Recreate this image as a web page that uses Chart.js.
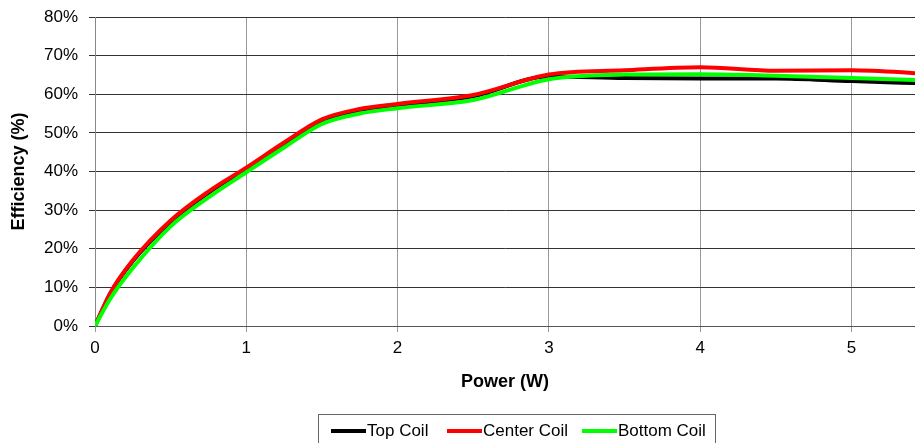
<!DOCTYPE html>
<html>
<head>
<meta charset="utf-8">
<script src="https://cdn.jsdelivr.net/npm/chart.js@4.4.1/dist/chart.umd.min.js"></script>
<style>
  body { margin: 0; background: #fff; }
  #wrap { position: relative; width: 915px; height: 443px; overflow: hidden; }
  #legend {
    position: absolute; left: 318px; top: 414px; width: 398px; height: 40px;
    border: 1px solid #666; box-sizing: border-box;
    font: 17px "Liberation Sans", Arial, sans-serif; color: #000;
  }
  #legend span.item { position: absolute; top: 6px; white-space: nowrap; }
  #legend i { display: inline-block; width: 35px; height: 4px; vertical-align: middle; margin-right: 1px; position: relative; top: -1px; }
</style>
</head>
<body>
<div id="wrap">
  <canvas id="myChart" width="915" height="443"></canvas>
  <div id="legend"></div>
</div>
<script>
// values
var powerW     = [0, 0.1, 0.25, 0.5, 0.75, 1, 1.25, 1.5, 1.75, 2, 2.5, 3, 3.5, 4, 4.5, 5, 5.5];
var topCoil    = [0, 8.3, 16.8, 27.0, 34.5, 40.7, 47.2, 53.2, 55.9, 57.2, 59.5, 64.6, 64.2, 64.1, 64.1, 63.4, 62.8];
var centerCoil = [0, 8.5, 17.0, 27.3, 34.8, 41.0, 47.5, 53.5, 56.2, 57.5, 59.8, 65.1, 66.2, 67.0, 66.1, 66.2, 65.3];
var bottomCoil = [0, 7.0, 15.0, 25.8, 33.3, 39.8, 46.2, 52.3, 55.0, 56.4, 58.5, 63.9, 65.1, 65.2, 64.8, 64.2, 63.6];
var seriesNames = ['Top Coil', 'Center Coil', 'Bottom Coil'];
var seriesColors = ['#000000', '#ff0000', '#00ff00'];

function toPoints(ys) {
   return ys.map(function (y, i) { return { x: powerW[i], y: y }; });
}

var allSeries = [topCoil, centerCoil, bottomCoil];
var datasets = allSeries.map(function (ys, i) {
   return {
      label: seriesNames[i],
      data: toPoints(ys),
      borderColor: seriesColors[i],
      backgroundColor: seriesColors[i],
      borderWidth: 4,
      pointRadius: 0,
      cubicInterpolationMode: 'monotone',
      order: 2 - i // green drawn on top, like the original
   };
});

var font = '"Liberation Sans", Arial, sans-serif';

var ctx = document.getElementById('myChart').getContext('2d');
var myChart = new Chart(ctx, {
   type: 'scatter',
   data: { datasets: datasets },
   options: {
      responsive: false,
      animation: false,
      showLine: true,
      layout: { padding: { top: 17, right: 0, bottom: 47, left: 0 } },
      plugins: {
         legend: { display: false },
         tooltip: { enabled: false }
      },
      scales: {
         x: {
            type: 'linear',
            min: 0,
            max: 5.42,
            afterFit: function (s) { s.height = 70; s.paddingLeft = 0; s.paddingRight = 0; },
            grid: { color: '#999999', lineWidth: 1, tickLength: 6 },
            border: { color: '#555555', width: 1 },
            ticks: {
               stepSize: 1,
               includeBounds: false,
               maxRotation: 0,
               padding: 6,
               color: '#000',
               font: { family: font, size: 17 }
            },
            title: {
               display: true,
               text: 'Power (W)',
               color: '#000',
               font: { family: font, size: 18, weight: 'bold' },
               padding: { top: 0, bottom: 3 }
            }
         },
         y: {
            min: 0,
            max: 80,
            afterFit: function (s) { s.width = 95; s.paddingTop = 0; s.paddingBottom = 0; },
            grid: { color: '#333333', lineWidth: 1, tickLength: 6 },
            border: { color: '#888888', width: 1 },
            ticks: {
               stepSize: 10,
               padding: 11,
               color: '#000',
               font: { family: font, size: 17 },
               callback: function (v) { return v + '%'; }
            },
            title: {
               display: true,
               text: 'Efficiency (%)',
               color: '#000',
               font: { family: font, size: 18, weight: 'bold' },
               padding: { top: 8, bottom: 0 }
            }
         }
      }
   }
});

// legend as in the original, framed box under the chart
var legendLeft = [12, 128, 263];
var legend = document.getElementById('legend');
seriesNames.forEach(function (name, i) {
   var item = document.createElement('span');
   item.className = 'item';
   item.style.left = legendLeft[i] + 'px';
   item.innerHTML = '<i style="background:' + seriesColors[i] + '"></i>' + name;
   legend.appendChild(item);
});
</script>
</body>
</html>
